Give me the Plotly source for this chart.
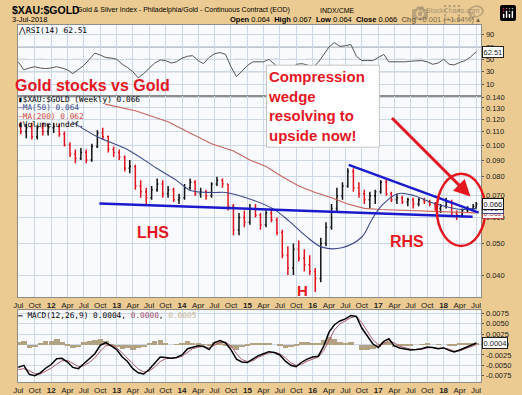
import numpy as np
import pandas as pd
import plotly.graph_objects as go

W, H = 522, 395
SANS = "Liberation Sans, Arial, sans-serif"
MONO = "DejaVu Sans Mono, monospace"
RED = "#e4171f"
BLUE_TL = "#1a1acc"
MA50_C = "#3c4a8c"
MA200_C = "#c8645a"

# ---------------- data ----------------
MONTHS = pd.date_range("2011-07-01", "2018-07-01", freq="MS")
BAR_DATES = list(MONTHS[:-1] + pd.Timedelta(days=14)) + [pd.Timestamp("2018-07-02")]
IND_DATES = list(MONTHS[:-1]) + [pd.Timestamp("2018-07-03")]

OPEN = [.115, .110, .113, .106, .113, .110, .113, .114, .108, .100,
        .094, .091, .095, .090, .099, .109, .106, .097, .095, .092,
        .085, .086, .075, .072, .069, .073, .076, .071, .073, .068,
        .069, .074, .077, .071, .072, .070, .076, .078, .076, .065,
        .055, .060, .058, .064, .061, .057, .062, .059, .054, .046,
        .042, .048, .045, .043, .041, .039, .050, .056, .064, .070,
        .075, .083, .074, .071, .068, .070, .072, .077, .071, .068,
        .069, .067, .068, .066, .068, .067, .066, .064, .065, .067,
        .062, .061, .063, .064, .064]
HIGH = [.118, .116, .117, .115, .117, .116, .117, .116, .110, .102,
        .097, .098, .097, .101, .111, .113, .107, .099, .097, .093,
        .090, .087, .078, .074, .075, .079, .078, .075, .074, .071,
        .076, .079, .078, .074, .073, .077, .080, .079, .076, .066,
        .062, .063, .066, .066, .062, .063, .064, .060, .055, .049,
        .050, .051, .048, .046, .042, .052, .058, .066, .074, .077,
        .085, .085, .077, .073, .072, .073, .078, .079, .072, .071,
        .070, .069, .069, .069, .069, .068, .067, .066, .069, .068,
        .063, .064, .065, .066, .067]
LOW = [.108, .105, .104, .104, .107, .107, .109, .106, .099, .092,
       .088, .090, .088, .089, .098, .104, .095, .092, .090, .083,
       .082, .073, .069, .066, .068, .072, .069, .069, .067, .066,
       .068, .073, .070, .069, .068, .069, .075, .074, .063, .053,
       .053, .056, .057, .060, .055, .056, .058, .053, .045, .040,
       .040, .044, .041, .040, .0355, .038, .049, .055, .062, .068,
       .074, .072, .069, .066, .064, .066, .071, .070, .067, .066,
       .066, .065, .064, .065, .066, .065, .063, .062, .064, .061,
       .059, .060, .062, .063, .064]
CLOSE = [.110, .113, .106, .113, .110, .113, .114, .108, .100, .094,
         .091, .095, .090, .099, .109, .106, .097, .095, .092, .085,
         .086, .075, .072, .069, .073, .076, .071, .073, .068, .069,
         .074, .077, .071, .072, .070, .076, .078, .076, .065, .055,
         .060, .058, .064, .061, .057, .062, .059, .054, .046, .042,
         .048, .045, .043, .041, .039, .050, .056, .064, .070, .075,
         .083, .074, .071, .068, .070, .072, .077, .071, .068, .069,
         .067, .068, .066, .068, .067, .066, .064, .065, .067, .062,
         .061, .063, .064, .065, .066]

MA50_DATES = ["2012-04-25", "2012-09-15", "2013-03-01", "2013-08-12", "2013-12-01",
              "2014-02-18", "2014-06-24", "2014-09-03", "2014-12-24", "2015-05-21",
              "2015-08-24", "2015-11-21", "2016-02-21", "2016-06-12", "2016-10-01",
              "2016-11-25", "2017-01-21", "2017-04-21", "2017-07-21", "2017-10-24",
              "2018-01-06", "2018-04-09", "2018-07-03"]
MA50 = [0.118, 0.106, 0.097, 0.085, 0.078, 0.0726, 0.0716, 0.0716, 0.069, 0.064,
        0.0584, 0.0528, 0.0487, 0.0485, 0.0523, 0.059, 0.0654, 0.071, 0.070, 0.0667,
        0.065, 0.0635, 0.064]

MA200_DATES = ["2012-10-28", "2013-04-15", "2013-10-15", "2014-01-15", "2014-06-15",
               "2014-10-15", "2015-01-15", "2015-04-15", "2015-07-15", "2015-10-15",
               "2016-01-15", "2016-04-15", "2016-07-15", "2016-10-15", "2017-01-15",
               "2017-07-15", "2018-01-15", "2018-07-03"]
MA200 = [0.1335, 0.1275, 0.118, 0.111, 0.101, 0.096, 0.090, 0.086, 0.080, 0.075,
         0.0716, 0.069, 0.066, 0.064, 0.0635, 0.063, 0.0625, 0.062]

RSI = [46, 33, 36, 38, 36, 35, 36, 38, 36, 33,
       27, 34, 40, 50, 60, 57, 53, 52, 50, 42,
       37, 30, 20, 27, 36, 44, 49, 48, 44, 46,
       52, 55, 56, 48, 43, 53, 59, 61, 58, 38,
       22, 31, 40, 46, 46, 46, 50, 42, 35, 32,
       30, 42, 43, 41, 37, 45, 57, 70, 77, 71,
       72, 74, 55, 48, 48, 48, 53, 58, 46, 46,
       45, 46, 47, 48, 48, 46, 42, 44, 50, 42,
       41, 45, 48, 54, 62.51]

MACD = [-0.0055, -0.0050, -0.0072, -0.0075, -0.0068, -0.0057, -0.0048, -0.0034, -0.0033, -0.0042,
        -0.0055, -0.0058, -0.0046, -0.0035, -0.0022, -0.0002, 0.0005, -0.0003, -0.0012, -0.0030,
        -0.0040, -0.0058, -0.0068, -0.0071, -0.0060, -0.0045, -0.0030, -0.0031, -0.0033, -0.0031,
        -0.0025, -0.0010, -0.0006, -0.0003, -0.0004, -0.0012, 0.0005, 0.0010, 0.0004, -0.0012,
        -0.0035, -0.0042, -0.0043, -0.0035, -0.0027, -0.0022, -0.0017, -0.0019, -0.0025, -0.0040,
        -0.0050, -0.0053, -0.0042, -0.0035, -0.0030, -0.0028, -0.0005, 0.0030, 0.0048, 0.0057,
        0.0062, 0.0070, 0.0068, 0.0040, 0.0020, 0.0002, -0.0007, 0.0008, 0.0014, -0.0003,
        -0.0008, -0.0011, -0.0013, -0.0012, -0.0010, -0.0006, -0.0007, -0.0010, -0.0008, -0.0014,
        -0.0018, -0.0013, -0.0007, -0.0001, 0.0004]
SIGNAL = [-0.0060, -0.0058, -0.0063, -0.0070, -0.0071, -0.0065, -0.0057, -0.0047, -0.0039, -0.0038,
          -0.0046, -0.0053, -0.0051, -0.0043, -0.0032, -0.0016, -0.0003, -0.0001, -0.0007, -0.0020,
          -0.0032, -0.0046, -0.0059, -0.0066, -0.0064, -0.0054, -0.0041, -0.0034, -0.0033, -0.0032,
          -0.0028, -0.0018, -0.0010, -0.0006, -0.0005, -0.0008, -0.0002, 0.0005, 0.0006, -0.0003,
          -0.0022, -0.0036, -0.0041, -0.0039, -0.0031, -0.0025, -0.0020, -0.0019, -0.0022, -0.0032,
          -0.0044, -0.0050, -0.0047, -0.0040, -0.0034, -0.0030, -0.0015, 0.0012, 0.0035, 0.0050,
          0.0058, 0.0065, 0.0068, 0.0053, 0.0032, 0.0012, 0.0000, 0.0002, 0.0009, 0.0004,
          -0.0004, -0.0008, -0.0011, -0.0012, -0.0011, -0.0008, -0.0007, -0.0009, -0.0008, -0.0011,
          -0.0016, -0.0015, -0.0010, -0.0004, 0.0000]

# hand-drawn trend lines (endpoints)
NECK_DATES = ["2012-09-26", "2018-06-12"]
NECK_VALS = [0.0663, 0.0603]
WEDGE_DATES = ["2016-07-20", "2018-07-16"]
WEDGE_VALS = [0.0870, 0.0621]

PRICE_TICKS = [0.04, 0.05, 0.06, 0.07, 0.08, 0.09, 0.10, 0.11, 0.12, 0.13, 0.14]
RSI_TICKS = [10, 30, 50, 70, 90]
RSI_LEVELS = [30, 70]
MACD_TICKS = [0.0075, 0.0050, 0.0025, 0.0, -0.0025, -0.0050, -0.0075]

X_TICKS = pd.date_range("2011-07-01", "2018-07-01", freq="QS-JAN")
X_TICKTEXT = [f"<b>{d.year % 100:02d}</b>" if d.month == 1 else d.strftime("%b") for d in X_TICKS]
X_RANGE = ["2011-06-29", "2018-07-31"]

HIST = [m - s for m, s in zip(MACD, SIGNAL)]

# ---------------- figure ----------------
def px(x):
    return x / W

def py(y):
    return 1 - y / H

XL, XR = px(13), px(481)
fig = go.Figure()

fig.add_trace(go.Scatter(x=IND_DATES, y=RSI, mode="lines", line=dict(color="#555555", width=1),
                         xaxis="x", yaxis="y", hoverinfo="skip"))

fig.add_trace(go.Scatter(x=MA200_DATES, y=MA200, mode="lines", line=dict(color=MA200_C, width=1.1),
                         xaxis="x2", yaxis="y2", hoverinfo="skip"))
fig.add_trace(go.Scatter(x=MA50_DATES, y=MA50, mode="lines", line=dict(color=MA50_C, width=1.1, shape="spline"),
                         xaxis="x2", yaxis="y2", hoverinfo="skip"))
fig.add_trace(go.Ohlc(x=BAR_DATES, open=OPEN, high=HIGH, low=LOW, close=CLOSE,
                      increasing=dict(line=dict(color="#111111", width=1.5)),
                      decreasing=dict(line=dict(color="#e0141e", width=1.5)),
                      tickwidth=0.4, xaxis="x2", yaxis="y2"))
fig.add_trace(go.Scatter(x=NECK_DATES, y=NECK_VALS, mode="lines", line=dict(color=BLUE_TL, width=2.5),
                         xaxis="x2", yaxis="y2", hoverinfo="skip"))
fig.add_trace(go.Scatter(x=WEDGE_DATES, y=WEDGE_VALS, mode="lines", line=dict(color=BLUE_TL, width=2.5),
                         xaxis="x2", yaxis="y2", hoverinfo="skip"))

fig.add_trace(go.Bar(x=IND_DATES, y=HIST, marker=dict(color="#b3a282", line=dict(width=0)),
                     width=30 * 24 * 3600 * 1000, xaxis="x3", yaxis="y3", hoverinfo="skip"))
fig.add_trace(go.Scatter(x=IND_DATES, y=SIGNAL, mode="lines", line=dict(color="#b0586a", width=1),
                         xaxis="x3", yaxis="y3", hoverinfo="skip"))
fig.add_trace(go.Scatter(x=IND_DATES, y=MACD, mode="lines", line=dict(color="#000000", width=1.5),
                         xaxis="x3", yaxis="y3", hoverinfo="skip"))

GRID = "#ccd8e5"
LINE = "#8c8c8c"
tickfont = dict(family=SANS, size=8, color="#222222")

xcommon = dict(type="date", range=X_RANGE, domain=[XL, XR], tickmode="array", tickvals=list(X_TICKS),
               ticktext=X_TICKTEXT, showgrid=True, gridcolor=GRID, gridwidth=1, showline=True,
               mirror=True, linecolor=LINE, linewidth=1, ticks="", tickfont=tickfont, tickangle=0,
               zeroline=False, fixedrange=True)
ycommon = dict(side="right", showgrid=True, gridcolor=GRID, gridwidth=1, showline=True, mirror=True,
               linecolor=LINE, linewidth=1, ticks="outside", ticklen=2, tickcolor="#555555",
               tickfont=dict(family=SANS, size=7.5, color="#222222"), zeroline=False, fixedrange=True)

fig.update_layout(
    width=W, height=H, margin=dict(l=0, r=0, t=0, b=0),
    paper_bgcolor="#ebcb92", plot_bgcolor="#f8fafd", showlegend=False, bargap=0,
    xaxis=dict(xcommon, anchor="y", showticklabels=False),
    yaxis=dict(ycommon, domain=[py(94), py(22)], range=[-9, 106], tickvals=RSI_TICKS,
               ticktext=[str(v) for v in RSI_TICKS], anchor="x"),
    xaxis2=dict(xcommon, anchor="y2", rangeslider=dict(visible=False)),
    yaxis2=dict(ycommon, domain=[py(298), py(94)], type="log",
                range=[np.log10(0.0342), np.log10(0.1416)], tickvals=PRICE_TICKS,
                ticktext=[f"{v:.3f}" for v in PRICE_TICKS], anchor="x2"),
    xaxis3=dict(xcommon, anchor="y3"),
    yaxis3=dict(ycommon, domain=[py(384), py(311)], range=[-0.00905, 0.00833], tickvals=MACD_TICKS,
                ticktext=[f"{v:.4f}" for v in MACD_TICKS], anchor="x3"),
)

shapes = []
for lv in RSI_LEVELS:
    shapes.append(dict(type="line", xref="x domain", yref="y", x0=0, x1=1, y0=lv, y1=lv,
                       line=dict(color="#8a8a8a", width=1), layer="below"))
shapes.append(dict(type="line", xref="x domain", yref="y", x0=0, x1=1, y0=50, y1=50,
                   line=dict(color="#9a9a9a", width=1, dash="dash"), layer="below"))
# text box
shapes.append(dict(type="rect", xref="paper", yref="paper", x0=px(264), x1=px(378), y0=py(146), y1=py(63),
                   fillcolor="white", line=dict(color="#c4c4c4", width=1), layer="above"))
# red ellipse
shapes.append(dict(type="circle", xref="paper", yref="paper", x0=px(436), x1=px(485), y0=py(246), y1=py(173),
                   line=dict(color=RED, width=2.5), layer="above"))
fig.update_layout(shapes=shapes)

ann = []

def txt(x, y, s, size=8, color="black", family=SANS, xanchor="left", yanchor="middle", align="left"):
    if xanchor != "center":
        x = x - 3
    ann.append(dict(x=px(x), y=py(y), xref="paper", yref="paper", text=s, showarrow=False,
                    xanchor=xanchor, yanchor=yanchor, borderpad=0, align=align,
                    font=dict(size=size, color=color, family=family)))

# header
txt(9, 7.5, "<b>$XAU:$GOLD</b>", 10.5)
txt(75, 7.5, "Gold & Silver Index - Philadelphia/Gold - Continuous Contract (EOD)", 7)
txt(320, 7.5, "INDX/CME", 7)
txt(484, 7.5, "© StockCharts.com", 7, color="#555555", xanchor="right")
txt(9, 16.5, "3-Jul-2018", 7.5)
txt(484, 16.5, "<b>Open</b> 0.064  <b>High</b> 0.067  <b>Low</b> 0.064  <b>Close</b> 0.066  "
               "<b>Chg</b> +0.001 (+1.64%) ▴", 7.5, xanchor="right")

# panel labels
txt(15, 27.5, "⋀RSI(14) 62.51", 7.8, family=MONO)
txt(15, 98, "▮$XAU:$GOLD (Weekly) 0.066", 7.8, family=MONO)
txt(15, 106, "<span style='color:%s'>—MA(50) 0.064</span>" % MA50_C, 7.8, family=MONO)
txt(15, 114.5, "<span style='color:%s'>—MA(200) 0.062</span>" % "#d2483c", 7.8, family=MONO)
txt(15, 123, "▮Volume undef.", 7.8, family=MONO)
txt(15, 316, "<b>—</b> MACD(12,26,9) 0.0004, <span style='color:#a0506a'>0.0000</span>, "
             "<span style='color:#c8b898'>0.0005</span>", 7.8, family=MONO)

# commentary
txt(12, 84, "<b>Gold stocks vs Gold</b>", 16, color=RED)
txt(268, 104, "<b>Compression<br>wedge<br>resolving to<br>upside now!</b>", 15, color=RED)
txt(149, 232, "<b>LHS</b>", 16, color=RED, xanchor="center")
txt(406, 242, "<b>RHS</b>", 16, color=RED, xanchor="center")
txt(300, 291, "<b>H</b>", 15, color=RED, xanchor="center")

# arrow
ann.append(dict(x=px(470), y=py(196), xref="paper", yref="paper", text="", showarrow=True,
                ax=-80, ay=-80, arrowhead=2, arrowsize=1.1, arrowwidth=3, arrowcolor=RED))

# value boxes on the right axis
def vbox(yval, yref, s, color):
    ann.append(dict(x=px(481.5), y=yval, xref="paper", yref=yref, text=s, showarrow=False,
                    xanchor="left", yanchor="middle", bgcolor="white", bordercolor=color,
                    borderwidth=1, borderpad=0.5, font=dict(size=7.5, color=color, family=SANS)))

vbox(62.51, "y", "62.51", "#222222")
vbox(np.log10(0.062), "y2", "0.062", "#c0443a")
vbox(np.log10(0.064), "y2", "0.064", MA50_C)
vbox(np.log10(0.066), "y2", "0.066", "#111111")
vbox(0.0004, "y3", "0.0004", "#222222")

fig.update_layout(annotations=ann)
fig.write_html("out.html",
               post_script="document.body.style.margin='0';document.body.style.overflow='hidden';")
